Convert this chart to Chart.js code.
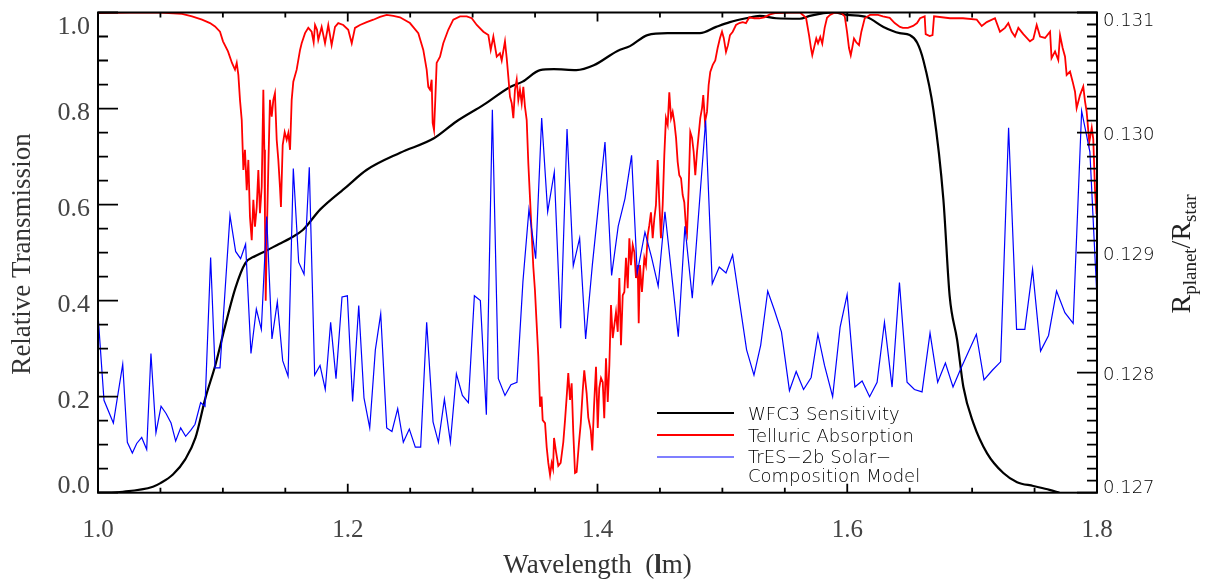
<!DOCTYPE html>
<html>
<head>
<meta charset="utf-8">
<script src="https://cdn.jsdelivr.net/npm/chart.js@4/dist/chart.umd.min.js"></script>
<style>
  body { margin: 0; background: #fff; }
  #wrap { width: 1212px; height: 583px; }
</style>
</head>
<body>
<div id="wrap"><canvas id="spectrum"></canvas></div>
<script>
// WFC3 sensitivity (left axis)
const sensWave = [1.000,1.020,1.044,1.050,1.060,1.070,1.078,1.086,1.094,1.102,1.110,1.118,1.126,1.134,1.145,1.154,1.164,1.178,1.199,1.215,1.242,1.269,1.287,1.309,1.330,1.340,1.354,1.365,1.383,1.397,1.416,1.426,1.440,1.456,1.482,1.495,1.506,1.519,1.530,1.543,1.562,1.570,1.589,1.600,1.616,1.629,1.642,1.650,1.656,1.661,1.669,1.677,1.682,1.688,1.693,1.701,1.712,1.725,1.736,1.749,1.762,1.770];
const sensValue = [0.000,0.002,0.0125,0.020,0.038,0.070,0.114,0.197,0.266,0.349,0.426,0.478,0.493,0.503,0.518,0.530,0.547,0.590,0.637,0.672,0.708,0.738,0.773,0.808,0.845,0.856,0.880,0.882,0.880,0.890,0.920,0.930,0.953,0.957,0.957,0.970,0.980,0.988,0.993,0.988,0.987,0.993,1.000,0.995,0.990,0.970,0.957,0.953,0.937,0.900,0.797,0.610,0.410,0.318,0.220,0.145,0.082,0.041,0.022,0.014,0.006,0.000];

// telluric absorption (left axis)
const tellWave = [
  1.0000,1.0256,1.0496,1.0673,1.0753,1.0833,1.0897,1.0937,1.0977,1.1001,
  1.1041,1.1073,1.1097,1.1111,1.1124,1.1137,1.1151,1.1164,1.1177,1.1191,
  1.1204,1.1217,1.1231,1.1244,1.1257,1.1271,1.1284,1.1297,1.1311,1.1324,
  1.1332,1.1337,1.1343,1.1353,1.1364,1.1377,1.1391,1.1404,1.1417,1.1431,
  1.1444,1.1457,1.1465,1.1479,1.1495,1.1511,1.1524,1.1538,1.1551,1.1564,
  1.1591,1.1618,1.1631,1.1658,1.1684,1.1711,1.1727,1.1738,1.1754,1.1764,
  1.1791,1.1818,1.1844,1.1871,1.1898,1.1924,1.1964,1.2004,1.2032,1.2058,
  1.2098,1.2152,1.2205,1.2258,1.2312,1.2365,1.2418,1.2498,1.2565,1.2605,
  1.2632,1.2645,1.2659,1.2672,1.2680,1.2691,1.2701,1.2712,1.2739,1.2765,
  1.2805,1.2845,1.2899,1.2953,1.2993,1.3033,1.3086,1.3126,1.3145,1.3166,
  1.3193,1.3219,1.3233,1.3259,1.3273,1.3286,1.3299,1.3313,1.3326,1.3339,
  1.3353,1.3366,1.3379,1.3393,1.3406,1.3419,1.3433,1.3446,1.3459,1.3473,
  1.3486,1.3499,1.3511,1.3526,1.3540,1.3552,1.3561,1.3580,1.3593,1.3606,
  1.3620,1.3633,1.3644,1.3652,1.3668,1.3686,1.3705,1.3726,1.3740,1.3753,
  1.3766,1.3780,1.3793,1.3806,1.3820,1.3833,1.3852,1.3866,1.3882,1.3894,
  1.3913,1.3926,1.3946,1.3958,1.3972,1.3988,1.4002,1.4014,1.4028,1.4042,
  1.4054,1.4068,1.4082,1.4095,1.4108,1.4122,1.4135,1.4148,1.4162,1.4175,
  1.4188,1.4202,1.4215,1.4228,1.4242,1.4255,1.4268,1.4282,1.4295,1.4308,
  1.4322,1.4330,1.4340,1.4356,1.4375,1.4388,1.4402,1.4415,1.4428,1.4442,
  1.4455,1.4468,1.4482,1.4495,1.4508,1.4522,1.4535,1.4548,1.4562,1.4575,
  1.4589,1.4602,1.4615,1.4629,1.4642,1.4655,1.4669,1.4682,1.4695,1.4709,
  1.4717,1.4730,1.4743,1.4757,1.4770,1.4783,1.4797,1.4810,1.4823,1.4837,
  1.4847,1.4861,1.4877,1.4890,1.4903,1.4923,1.4943,1.4962,1.4981,1.4997,
  1.5011,1.5029,1.5045,1.5061,1.5083,1.5109,1.5136,1.5163,1.5189,1.5216,
  1.5256,1.5296,1.5336,1.5381,1.5429,1.5542,1.5622,1.5670,1.5694,1.5710,
  1.5720,1.5739,1.5752,1.5766,1.5784,1.5800,1.5819,1.5838,1.5862,1.5902,
  1.5950,1.5980,1.5998,1.6014,1.6028,1.6041,1.6054,1.6072,1.6094,1.6113,
  1.6140,1.6182,1.6246,1.6286,1.6340,1.6380,1.6422,1.6446,1.6486,1.6527,
  1.6559,1.6583,1.6620,1.6628,1.6660,1.6683,1.6695,1.6823,1.6927,1.7037,
  1.7077,1.7117,1.7183,1.7223,1.7263,1.7290,1.7317,1.7343,1.7370,1.7410,
  1.7463,1.7490,1.7517,1.7544,1.7584,1.7624,1.7636,1.7664,1.7690,1.7704,
  1.7725,1.7744,1.7757,1.7784,1.7805,1.7824,1.7837,1.7864,1.7890,1.7904,
  1.7917,1.7938,1.7958,1.7970,1.7984,1.7996
];
const tellValue = [
  0.999,1.000,1.000,0.997,0.992,0.985,0.978,0.971,0.960,0.940,
  0.919,0.895,0.881,0.895,0.870,0.818,0.776,0.672,0.714,0.630,
  0.693,0.574,0.526,0.610,0.554,0.595,0.672,0.582,0.637,0.839,
  0.714,0.574,0.400,0.550,0.678,0.818,0.783,0.818,0.832,0.735,
  0.693,0.637,0.595,0.724,0.751,0.735,0.749,0.714,0.818,0.856,
  0.881,0.922,0.936,0.957,0.968,0.960,0.938,0.974,0.964,0.943,
  0.970,0.936,0.974,0.932,0.970,0.978,0.974,0.964,0.936,0.968,
  0.974,0.980,0.985,0.991,0.995,0.993,0.990,0.978,0.957,0.922,
  0.881,0.845,0.839,0.860,0.770,0.755,0.818,0.895,0.908,0.936,
  0.964,0.985,0.992,0.992,0.988,0.974,0.960,0.953,0.922,0.950,
  0.908,0.915,0.900,0.940,0.905,0.866,0.825,0.811,0.780,0.839,
  0.860,0.818,0.839,0.811,0.845,0.804,0.776,0.686,0.616,0.540,
  0.470,0.422,0.360,0.283,0.179,0.200,0.151,0.145,0.095,0.062,
  0.037,0.062,0.050,0.114,0.085,0.056,0.062,0.105,0.151,0.199,
  0.249,0.193,0.228,0.126,0.041,0.043,0.105,0.145,0.214,0.255,
  0.207,0.157,0.130,0.088,0.179,0.262,0.135,0.218,0.239,0.230,
  0.155,0.280,0.189,0.266,0.391,0.322,0.349,0.376,0.335,0.447,
  0.307,0.411,0.418,0.489,0.426,0.530,0.474,0.516,0.501,0.447,
  0.474,0.353,0.474,0.418,0.489,0.474,0.536,0.557,0.584,0.530,
  0.571,0.599,0.693,0.605,0.530,0.599,0.703,0.780,0.766,0.834,
  0.780,0.793,0.772,0.739,0.689,0.661,0.655,0.620,0.605,0.551,
  0.540,0.634,0.751,0.739,0.710,0.661,0.710,0.745,0.780,0.801,
  0.828,0.772,0.793,0.849,0.876,0.891,0.900,0.926,0.947,0.960,
  0.947,0.918,0.932,0.953,0.960,0.974,0.978,0.980,0.978,0.990,
  0.988,0.988,0.990,0.996,0.999,1.000,1.000,0.989,0.953,0.925,
  0.911,0.932,0.946,0.936,0.949,0.935,0.968,0.989,0.995,1.000,
  1.000,0.992,0.960,0.926,0.911,0.928,0.946,0.938,0.932,0.960,
  0.988,0.995,0.995,0.992,0.989,0.978,0.970,0.968,0.968,0.972,
  0.978,0.988,0.992,0.955,0.951,0.953,0.992,0.988,0.988,0.985,
  0.972,0.980,0.988,0.960,0.968,0.978,0.960,0.950,0.968,0.955,
  0.940,0.945,0.974,0.950,0.947,0.960,0.905,0.919,0.901,0.953,
  0.926,0.908,0.870,0.877,0.856,0.835,0.801,0.828,0.846,0.815,
  0.794,0.730,0.760,0.737,0.630,0.580
];

// TrES-2b model, Rp/Rs (right axis)
const modelWave = [
  1.0003,1.0048,1.0123,1.0155,1.0198,1.0235,1.0275,1.0310,1.0350,1.0390,
  1.0424,1.0464,1.0505,1.0545,1.0585,1.0622,1.0662,1.0702,1.0742,1.0777,
  1.0822,1.0857,1.0902,1.0937,1.0977,1.1057,1.1102,1.1142,1.1182,1.1225,
  1.1268,1.1308,1.1351,1.1393,1.1436,1.1479,1.1522,1.1564,1.1607,1.1650,
  1.1692,1.1735,1.1778,1.1820,1.1863,1.1906,1.1954,1.1997,1.2039,1.2088,
  1.2130,1.2176,1.2221,1.2264,1.2312,1.2354,1.2400,1.2445,1.2493,1.2541,
  1.2584,1.2632,1.2683,1.2726,1.2774,1.2822,1.2870,1.2918,1.2966,1.3014,
  1.3062,1.3110,1.3158,1.3206,1.3259,1.3307,1.3355,1.3403,1.3451,1.3505,
  1.3553,1.3601,1.3654,1.3705,1.3756,1.3806,1.3857,1.3905,1.3959,1.4060,
  1.4113,1.4166,1.4220,1.4273,1.4318,1.4380,1.4433,1.4486,1.4540,1.4647,
  1.4700,1.4759,1.4866,1.4919,1.4975,1.5029,1.5082,1.5194,1.5253,1.5307,
  1.5363,1.5417,1.5473,1.5537,1.5591,1.5650,1.5711,1.5765,1.5818,1.5883,
  1.5943,1.5999,1.6061,1.6119,1.6179,1.6239,1.6298,1.6359,1.6418,1.6479,
  1.6538,1.6599,1.6663,1.6724,1.6786,1.6847,1.6908,1.7034,1.7095,1.7162,
  1.7228,1.7292,1.7356,1.7422,1.7484,1.7548,1.7612,1.7676,1.7743,1.7809,
  1.7877,1.7943,1.7997
];
const modelRp = [
  0.12844,0.12777,0.12758,0.12779,0.12807,0.12742,0.12733,0.12741,0.12746,0.12736,
  0.12816,0.12750,0.12772,0.12766,0.12758,0.12743,0.12754,0.12747,0.12752,0.12757,
  0.12775,0.12772,0.12896,0.12804,0.12804,0.12931,0.12901,0.12895,0.12907,0.12816,
  0.12853,0.12836,0.12930,0.12828,0.12859,0.12810,0.12797,0.12970,0.12892,0.12882,
  0.12971,0.12798,0.12806,0.12786,0.12842,0.12795,0.12863,0.12864,0.12776,0.12856,
  0.12779,0.12754,0.12819,0.12849,0.12754,0.12751,0.12770,0.12742,0.12753,0.12738,
  0.12738,0.12842,0.12759,0.12742,0.12778,0.12742,0.12799,0.12781,0.12775,0.12864,
  0.12860,0.12765,0.13019,0.12795,0.12781,0.12790,0.12792,0.12876,0.12936,0.12895,
  0.13012,0.12934,0.12967,0.12837,0.13003,0.12889,0.12912,0.12828,0.12890,0.12992,
  0.12881,0.12922,0.12945,0.12981,0.12883,0.12917,0.12896,0.12872,0.12934,0.12830,
  0.12922,0.12862,0.13010,0.12874,0.12888,0.12883,0.12898,0.12819,0.12798,0.12823,
  0.12868,0.12852,0.12834,0.12785,0.12801,0.12786,0.12796,0.12832,0.12806,0.12780,
  0.12838,0.12865,0.12788,0.12793,0.12780,0.12792,0.12842,0.12788,0.12875,0.12792,
  0.12786,0.12784,0.12833,0.12792,0.12808,0.12788,0.12803,0.12832,0.12794,0.12802,
  0.12809,0.13004,0.12836,0.12836,0.12886,0.12818,0.12831,0.12868,0.12850,0.12841,
  0.13018,0.12984,0.12868
];

// ticks
const xTicks = [1.0, 1.2, 1.4, 1.6, 1.8];
const xTickLabels = ['1.0', '1.2', '1.4', '1.6', '1.8'];
const leftTicks = [0.0, 0.2, 0.4, 0.6, 0.8, 1.0];
const leftTickLabels = ['0.0', '0.2', '0.4', '0.6', '0.8', '1.0'];
const rightTicks = [0.127, 0.128, 0.129, 0.130, 0.131];
const rightTickLabels = ['0.127', '0.128', '0.129', '0.130', '0.131'];

const legendItems = [
  { color: '#000000', width: 2.2, lines: ['WFC3 Sensitivity'] },
  { color: '#ff0000', width: 1.8, lines: ['Telluric Absorption'] },
  { color: '#0000ff', width: 1.2, lines: ['TrES\u22122b Solar\u2212', 'Composition Model'] }
];

const pairs = (xs, ys) => xs.map((x, i) => ({ x: x, y: ys[i] }));

const SERIF = '"Liberation Serif", "Times New Roman", serif';
const SANS = '"DejaVu Sans", sans-serif';

// IDL-style frame, inward ticks, labels, titles and legend
const idlAxes = {
  id: 'idlAxes',
  afterDraw(chart) {
    const { ctx, chartArea: a, scales } = chart;
    const sx = scales.x, sy = scales.y, sr = scales.y2;
    ctx.save();
    ctx.strokeStyle = '#000';
    ctx.lineWidth = 2;
    ctx.strokeRect(a.left, a.top, a.right - a.left, a.bottom - a.top);

    ctx.lineWidth = 1.8;
    ctx.beginPath();
    for (let i = 0; i <= 16; i++) {
      const px = sx.getPixelForValue(1 + i * 0.05);
      const len = i % 4 === 0 ? 9 : 5;
      ctx.moveTo(px, a.bottom); ctx.lineTo(px, a.bottom - len);
      ctx.moveTo(px, a.top); ctx.lineTo(px, a.top + len);
    }
    for (let i = 0; i <= 20; i++) {
      const py = sy.getPixelForValue(i * 0.05);
      const len = i % 4 === 0 ? 20 : 10;
      ctx.moveTo(a.left, py); ctx.lineTo(a.left + len, py);
    }
    for (let i = 0; i <= 40; i++) {
      const py = sr.getPixelForValue(0.127 + i * 0.0001);
      const len = i % 10 === 0 ? 20 : 10;
      ctx.moveTo(a.right, py); ctx.lineTo(a.right - len, py);
    }
    ctx.stroke();

    // left tick labels
    ctx.font = '26px ' + SERIF;
    ctx.fillStyle = '#444';
    ctx.textAlign = 'right';
    ctx.textBaseline = 'alphabetic';
    leftTicks.forEach((v, i) => {
      const py = sy.getPixelForValue(v);
      const b = Math.min(Math.max(py + 11, a.top + 21), a.bottom + 0.5);
      ctx.fillText(leftTickLabels[i], a.left - 8, b);
    });

    // bottom tick labels
    ctx.font = '25px ' + SERIF;
    ctx.textAlign = 'center';
    xTicks.forEach((v, i) => {
      ctx.fillText(xTickLabels[i], sx.getPixelForValue(v), 537);
    });

    // right tick labels
    ctx.font = '200 18px ' + SANS;
    ctx.fillStyle = '#000';
    ctx.textAlign = 'left';
    rightTicks.forEach((v, i) => {
      const py = sr.getPixelForValue(v);
      const b = Math.min(Math.max(py + 7, a.top + 13.5), a.bottom + 0.5);
      ctx.fillText(rightTickLabels[i], a.right + 6, b);
    });

    // x title with bold "l"
    ctx.fillStyle = '#333';
    const xParts = [
      { t: 'Wavelength  (', f: '27px ' + SERIF },
      { t: 'l', f: 'bold 27px ' + SERIF },
      { t: 'm)', f: '27px ' + SERIF }
    ];
    let tw = 0;
    xParts.forEach(p => { ctx.font = p.f; p.w = ctx.measureText(p.t).width; tw += p.w; });
    let cx = (a.left + a.right) / 2 - tw / 2;
    ctx.textAlign = 'left';
    xParts.forEach(p => { ctx.font = p.f; ctx.fillText(p.t, cx, 573); cx += p.w; });

    // left title
    ctx.save();
    ctx.translate(30, 254);
    ctx.rotate(-Math.PI / 2);
    ctx.font = '27px ' + SERIF;
    ctx.textAlign = 'center';
    ctx.fillText('Relative Transmission', 0, 0);
    ctx.restore();

    // right title R_planet / R_star
    ctx.save();
    ctx.translate(1190, 254);
    ctx.rotate(-Math.PI / 2);
    ctx.fillStyle = '#222';
    const rParts = [
      { t: 'R', f: '28px ' + SERIF, dy: 0 },
      { t: 'planet', f: '19px ' + SERIF, dy: 6 },
      { t: '/', f: '28px ' + SERIF, dy: 0 },
      { t: 'R', f: '28px ' + SERIF, dy: 0 },
      { t: 'star', f: '19px ' + SERIF, dy: 6 }
    ];
    tw = 0;
    rParts.forEach(p => { ctx.font = p.f; p.w = ctx.measureText(p.t).width; tw += p.w; });
    cx = -tw / 2;
    ctx.textAlign = 'left';
    rParts.forEach(p => { ctx.font = p.f; ctx.fillText(p.t, cx, p.dy); cx += p.w; });
    ctx.restore();

    // legend
    const lineY = [413, 435, 457];
    const textY = [[420], [442], [463, 482]];
    ctx.font = '200 18px ' + SANS;
    ctx.fillStyle = '#000';
    ctx.textAlign = 'left';
    legendItems.forEach((item, i) => {
      ctx.strokeStyle = item.color;
      ctx.lineWidth = item.width;
      ctx.beginPath();
      ctx.moveTo(657, lineY[i]);
      ctx.lineTo(734, lineY[i]);
      ctx.stroke();
      item.lines.forEach((t, k) => ctx.fillText(t, 748, textY[i][k]));
    });
    ctx.restore();
  }
};

const ctx = document.getElementById('spectrum').getContext('2d');
new Chart(ctx, {
  type: 'line',
  data: {
    datasets: [
      {
        label: 'TrES-2b Solar-Composition Model',
        data: pairs(modelWave, modelRp),
        yAxisID: 'y2',
        borderColor: '#0000ff',
        borderWidth: 1.2,
        pointRadius: 0,
        tension: 0
      },
      {
        label: 'Telluric Absorption',
        data: pairs(tellWave, tellValue),
        yAxisID: 'y',
        borderColor: '#ff0000',
        borderWidth: 1.8,
        pointRadius: 0,
        tension: 0
      },
      {
        label: 'WFC3 Sensitivity',
        data: pairs(sensWave, sensValue),
        yAxisID: 'y',
        borderColor: '#000000',
        borderWidth: 2.2,
        pointRadius: 0,
        cubicInterpolationMode: 'monotone'
      }
    ]
  },
  options: {
    responsive: true,
    maintainAspectRatio: false,
    animation: false,
    events: [],
    layout: { padding: { left: 98, right: 115, top: 12.5, bottom: 90.3 } },
    plugins: {
      legend: { display: false },
      tooltip: { enabled: false }
    },
    scales: {
      x: {
        type: 'linear', min: 1.0, max: 1.8,
        grid: { display: false }, border: { display: false },
        ticks: { display: false },
        afterFit: s => { s.height = 0; }
      },
      y: {
        position: 'left', min: 0, max: 1,
        grid: { display: false }, border: { display: false },
        ticks: { display: false },
        afterFit: s => { s.width = 0; }
      },
      y2: {
        position: 'right', min: 0.127, max: 0.131,
        grid: { display: false }, border: { display: false },
        ticks: { display: false },
        afterFit: s => { s.width = 0; }
      }
    }
  },
  plugins: [idlAxes]
});
</script>
</body>
</html>
